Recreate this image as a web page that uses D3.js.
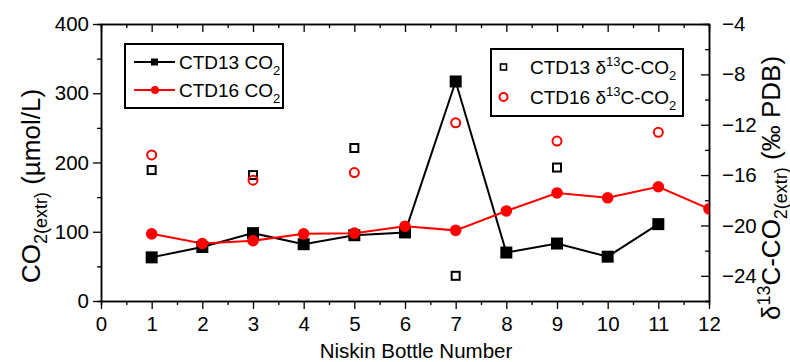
<!DOCTYPE html>
<html>
<head>
<meta charset="utf-8">
<script src="https://cdn.jsdelivr.net/npm/d3@7"></script>
<style>
  body { margin: 0; background: #fff; }
  svg { display: block; font-family: "Liberation Sans", Arial, sans-serif; }
</style>
</head>
<body>
<div id="chart"></div>
<script>
// data
const bottles13 = [1, 2, 3, 4, 5, 6, 7, 8, 9, 10, 11];
const ctd13Co2 = [63, 78, 98, 82, 95, 99, 317, 70, 83, 64, 111];
const bottles16 = [1, 2, 3, 4, 5, 6, 7, 8, 9, 10, 11, 12];
const ctd16Co2 = [97, 83, 87, 97, 98, 108, 102, 130, 156, 149, 165, 133];
const isoBottles13 = [1, 3, 5, 7, 9];
const ctd13D13C = [-15.6, -16.0, -13.85, -24.0, -15.4];
const isoBottles16 = [1, 3, 5, 7, 9, 11];
const ctd16D13C = [-14.4, -16.4, -15.8, -11.85, -13.3, -12.6];
const xTicks = d3.range(0, 13);
const leftTicks = [0, 100, 200, 300, 400];
const rightTicks = [-24, -20, -16, -12, -8, -4];

const width = 790, height = 362;
const margin = { top: 24, right: 81, bottom: 61, left: 101 };
const iw = width - margin.left - margin.right;
const ih = height - margin.top - margin.bottom;
const RED = "#ff0000";

const svg = d3.select("#chart").append("svg")
  .attr("width", width)
  .attr("height", height);

const g = svg.append("g").attr("transform", `translate(${margin.left},${margin.top})`);

let x = d3.scaleLinear().domain([0, 12]).range([0, iw]);
let yL = d3.scaleLinear().domain([0, 400]).range([ih, 0]);
let yR = d3.scaleLinear().domain([-26, -4]).range([ih, 0]);

g.append("clipPath").attr("id", "clip")
  .append("rect").attr("width", iw).attr("height", ih);

// axes
const tickFont = g => g.selectAll("text").style("font-size", "20.5px").attr("fill", "#000");
const cleanAxis = g => g.selectAll("path, line").attr("stroke", "#000").attr("stroke-width", 1.3);

// minor ticks first, majors on top
g.append("g").attr("transform", `translate(0,${ih})`)
  .call(d3.axisBottom(x).tickValues(d3.range(0.5, 12, 1)).tickSize(4).tickFormat(""))
  .call(cleanAxis);
g.append("g").attr("transform", `translate(0,${ih})`)
  .call(d3.axisBottom(x).tickValues(xTicks).tickSize(8).tickPadding(7).tickSizeOuter(0))
  .call(cleanAxis).call(tickFont);

g.append("g")
  .call(d3.axisTop(x).tickValues(d3.range(0.5, 12, 1)).tickSize(-4).tickFormat(""))
  .call(cleanAxis);
g.append("g")
  .call(d3.axisTop(x).tickValues(xTicks).tickSize(-8).tickFormat("").tickSizeOuter(0))
  .call(cleanAxis);

g.append("g")
  .call(d3.axisLeft(yL).tickValues([50, 150, 250, 350]).tickSize(4).tickFormat(""))
  .call(cleanAxis);
g.append("g")
  .call(d3.axisLeft(yL).tickValues(leftTicks).tickSize(8).tickPadding(4).tickSizeOuter(0))
  .call(cleanAxis).call(tickFont);

g.append("g").attr("transform", `translate(${iw},0)`)
  .call(d3.axisRight(yR).tickValues([-26, -22, -18, -14, -10, -6]).tickSize(-4).tickFormat(""))
  .call(cleanAxis);
g.append("g").attr("transform", `translate(${iw},0)`)
  .call(d3.axisRight(yR).tickValues(rightTicks).tickSize(-8).tickPadding(13).tickSizeOuter(0))
  .call(cleanAxis).call(tickFont);

svg.selectAll(".domain").attr("stroke-width", 1.5);

// plot
const plot = g.append("g").attr("clip-path", "url(#clip)");

const line13 = d3.line().x((d, i) => x(bottles13[i])).y(d => yL(d));
const line16 = d3.line().x((d, i) => x(bottles16[i])).y(d => yL(d));

plot.append("path").datum(ctd13Co2).attr("d", line13)
  .attr("fill", "none").attr("stroke", "#000").attr("stroke-width", 2);
plot.append("path").datum(ctd16Co2).attr("d", line16)
  .attr("fill", "none").attr("stroke", RED).attr("stroke-width", 2);

plot.selectAll(".sq13").data(ctd13Co2).enter().append("rect")
  .attr("x", (d, i) => x(bottles13[i]) - 6)
  .attr("y", d => yL(d) - 6)
  .attr("width", 12).attr("height", 12).attr("fill", "#000");

plot.selectAll(".c16").data(ctd16Co2).enter().append("circle")
  .attr("cx", (d, i) => x(bottles16[i]))
  .attr("cy", d => yL(d))
  .attr("r", 5.8).attr("fill", RED);

plot.selectAll(".iso13").data(ctd13D13C).enter().append("rect")
  .attr("x", (d, i) => x(isoBottles13[i]) - 4)
  .attr("y", d => yR(d) - 4)
  .attr("width", 8).attr("height", 8)
  .attr("fill", "none").attr("stroke", "#000").attr("stroke-width", 2);

plot.selectAll(".iso16").data(ctd16D13C).enter().append("circle")
  .attr("cx", (d, i) => x(isoBottles16[i]))
  .attr("cy", d => yR(d))
  .attr("r", 4.5)
  .attr("fill", "none").attr("stroke", RED).attr("stroke-width", 2);

// axis titles
svg.append("text")
  .attr("x", margin.left + iw / 2 + 11).attr("y", 358)
  .attr("text-anchor", "middle").style("font-size", "20.5px")
  .text("Niskin Bottle Number");

const leftTitle = svg.append("text")
  .attr("transform", `translate(40,186) rotate(-90)`)
  .attr("text-anchor", "middle").style("font-size", "26px");
leftTitle.append("tspan").text("CO");
leftTitle.append("tspan").attr("dy", 7).style("font-size", "18px").text("2(extr)");
leftTitle.append("tspan").attr("dy", -7).text(" (\u00b5mol/L)");

const rightTitle = svg.append("text")
  .attr("transform", `translate(780,188) rotate(-90)`)
  .attr("text-anchor", "middle").style("font-size", "26px");
rightTitle.append("tspan").text("\u03b4");
rightTitle.append("tspan").attr("dy", -10).style("font-size", "18px").text("13");
rightTitle.append("tspan").attr("dy", 10).text("C-CO");
rightTitle.append("tspan").attr("dy", 7).style("font-size", "18px").text("2(extr)");
rightTitle.append("tspan").attr("dy", -7).text(" (\u2030 PDB)");

// legend 1
const leg1 = svg.append("g").attr("transform", "translate(125,44)");
leg1.append("rect").attr("width", 158).attr("height", 64)
  .attr("fill", "#fff").attr("stroke", "#000").attr("stroke-width", 2);
const leg1Items = [
  { label: "CTD13 CO", color: "#000", shape: "square" },
  { label: "CTD16 CO", color: RED, shape: "circle" }
];
leg1Items.forEach((it, i) => {
  const yy = 18 + i * 28;
  leg1.append("line").attr("x1", 9).attr("x2", 50).attr("y1", yy).attr("y2", yy)
    .attr("stroke", it.color).attr("stroke-width", 2);
  if (it.shape === "square") {
    leg1.append("rect").attr("x", 26).attr("y", yy - 3.5).attr("width", 7).attr("height", 7).attr("fill", it.color);
  } else {
    leg1.append("circle").attr("cx", 30).attr("cy", yy).attr("r", 4).attr("fill", it.color);
  }
  const t = leg1.append("text").attr("x", 54).attr("y", yy + 7).style("font-size", "19px");
  t.append("tspan").text(it.label);
  t.append("tspan").attr("dy", 6).style("font-size", "13px").text("2");
});

// legend 2
const leg2 = svg.append("g").attr("transform", "translate(491,49)");
leg2.append("rect").attr("width", 192).attr("height", 67)
  .attr("fill", "#fff").attr("stroke", "#000").attr("stroke-width", 2);
const leg2Items = [
  { label: "CTD13 ", color: "#000", shape: "square" },
  { label: "CTD16 ", color: RED, shape: "circle" }
];
leg2Items.forEach((it, i) => {
  const yy = 18 + i * 30;
  if (it.shape === "square") {
    leg2.append("rect").attr("x", 9.5).attr("y", yy - 3).attr("width", 6).attr("height", 6)
      .attr("fill", "none").attr("stroke", it.color).attr("stroke-width", 1.6);
  } else {
    leg2.append("circle").attr("cx", 12.5).attr("cy", yy).attr("r", 4)
      .attr("fill", "none").attr("stroke", it.color).attr("stroke-width", 2);
  }
  const t = leg2.append("text").attr("x", 39).attr("y", yy + 7).style("font-size", "19px");
  t.append("tspan").text(it.label + "\u03b4");
  t.append("tspan").attr("dy", -8).style("font-size", "13px").text("13");
  t.append("tspan").attr("dy", 8).text("C-CO");
  t.append("tspan").attr("dy", 6).style("font-size", "13px").text("2");
});
</script>
</body>
</html>
